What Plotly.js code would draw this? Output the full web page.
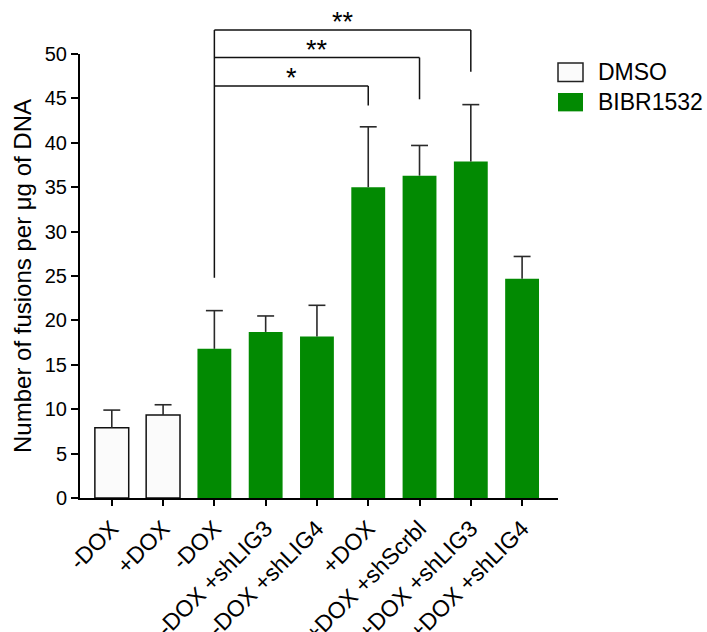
<!DOCTYPE html>
<html><head><meta charset="utf-8">
<script src="https://cdn.plot.ly/plotly-3.0.1.min.js"></script>
<style>html,body{margin:0;padding:0;background:#fff}#chart{width:707px;height:632px}</style>
</head><body><div id="chart"></div>
<script>
// ---- data ----
const categories = ['-DOX', '+DOX', '-DOX', '-DOX +shLIG3', '-DOX +shLIG4', '+DOX', '+DOX +shScrbl', '+DOX +shLIG3', '+DOX +shLIG4'];
const seriesNames = ['DMSO', 'BIBR1532'];
const seriesOfBar = [0, 0, 1, 1, 1, 1, 1, 1, 1];
const meanValues = [7.9, 9.35, 16.8, 18.7, 18.2, 35.0, 36.3, 37.9, 24.7];
const errorValues = [2.0, 1.15, 4.3, 1.8, 3.5, 6.8, 3.4, 6.4, 2.5];
const yTickValues = [0, 5, 10, 15, 20, 25, 30, 35, 40, 45, 50];
// significance comparisons
const compFrom = [2, 2, 2];
const compTo = [5, 6, 7];
const compLabel = ['*', '**', '**'];
const compLevel = [46.4, 49.6, 52.7];
const compDrop = [44.2, 44.9, 48.0];
const compStartDrop = 24.8;

// ---- styling ----
const FONT = '"Liberation Sans", Arial, Helvetica, sans-serif';
const seriesColors = ['#fbfbfb', '#028a02'];
const seriesLine = [{color: '#111', width: 1.5}, {color: '#028a02', width: 0}];
const xRange = [-0.62, 8.7];
const yRange = [0, 50];
const barWidth = 0.66;
const capHalf = 0.165;

const idx = categories.map((_, i) => i);
const px = v => (v - xRange[0]) / (xRange[1] - xRange[0]);
const py = v => (v - yRange[0]) / (yRange[1] - yRange[0]);

const traces = seriesNames.map((name, s) => {
  const ii = idx.filter(i => seriesOfBar[i] === s);
  return {
    type: 'bar', name: name,
    x: ii, y: ii.map(i => meanValues[i]),
    width: barWidth,
    marker: {color: seriesColors[s], line: seriesLine[s]},
    showlegend: false, hoverinfo: 'y'
  };
});

// upward-only error bars
const ex = [], ey = [];
idx.forEach(i => {
  const top = meanValues[i] + errorValues[i];
  ex.push(i, i, null, i - capHalf, i + capHalf, null);
  ey.push(meanValues[i], top, null, top, top, null);
});
traces.push({type: 'scatter', mode: 'lines', x: ex, y: ey,
  line: {color: '#2a2a2a', width: 1.6}, hoverinfo: 'skip', showlegend: false, connectgaps: false});

// brackets
const shapes = [];
const annotations = [];
const lineStyle = {color: '#111', width: 1.5};
const maxLevel = Math.max(...compLevel);
shapes.push({type: 'line', xref: 'paper', yref: 'paper',
  x0: px(compFrom[0]), x1: px(compFrom[0]), y0: py(compStartDrop), y1: py(maxLevel), line: lineStyle});
compFrom.forEach((f, k) => {
  shapes.push({type: 'line', xref: 'paper', yref: 'paper',
    x0: px(f), x1: px(compTo[k]), y0: py(compLevel[k]), y1: py(compLevel[k]), line: lineStyle});
  shapes.push({type: 'line', xref: 'paper', yref: 'paper',
    x0: px(compTo[k]), x1: px(compTo[k]), y0: py(compLevel[k]), y1: py(compDrop[k]), line: lineStyle});
  annotations.push({xref: 'paper', yref: 'paper', x: px((f + compTo[k]) / 2), y: py(compLevel[k]),
    text: compLabel[k], showarrow: false, xanchor: 'center', yanchor: 'bottom', yshift: -9,
    font: {family: FONT, size: 27, color: '#000'}});
});

// legend (drawn in paper coords)
const legTop = [0.9797, 0.9122];
const legH = 0.0414;
seriesNames.forEach((name, s) => {
  shapes.push({type: 'rect', xref: 'paper', yref: 'paper',
    x0: 1.0, x1: 1.0523, y0: legTop[s] - legH, y1: legTop[s],
    fillcolor: seriesColors[s], line: s === 0 ? {color: '#222', width: 1.5} : {width: 0}});
  annotations.push({xref: 'paper', yref: 'paper', x: 1.0795, y: legTop[s] - legH / 2,
    text: name, showarrow: false, xanchor: 'left', yanchor: 'middle',
    font: {family: FONT, size: 23, color: '#000'}});
});

const layout = {
  width: 707, height: 632,
  margin: {l: 80, r: 149, t: 54, b: 134},
  paper_bgcolor: '#fff', plot_bgcolor: '#fff',
  font: {family: FONT, color: '#000'},
  barmode: 'overlay',
  showlegend: false,
  xaxis: {
    range: xRange, tickmode: 'array', tickvals: idx, ticktext: categories,
    tickangle: -45, tickfont: {family: FONT, size: 23, color: '#000'},
    ticks: 'outside', ticklen: 6, tickwidth: 2, tickcolor: '#000',
    showline: true, linecolor: '#000', linewidth: 2,
    showgrid: false, zeroline: false, fixedrange: true
  },
  yaxis: {
    range: yRange, tickmode: 'array', tickvals: yTickValues,
    tickfont: {family: FONT, size: 20, color: '#000'},
    ticks: 'outside', ticklen: 7, tickwidth: 2, tickcolor: '#000',
    showline: true, linecolor: '#000', linewidth: 2,
    showgrid: false, zeroline: false, fixedrange: true,
    title: {text: 'Number of fusions per μg of DNA', font: {family: FONT, size: 24, color: '#000'}, standoff: 6}
  },
  shapes: shapes,
  annotations: annotations
};

Plotly.newPlot('chart', traces, layout, {displayModeBar: false, staticPlot: true});
</script>
</body></html>
